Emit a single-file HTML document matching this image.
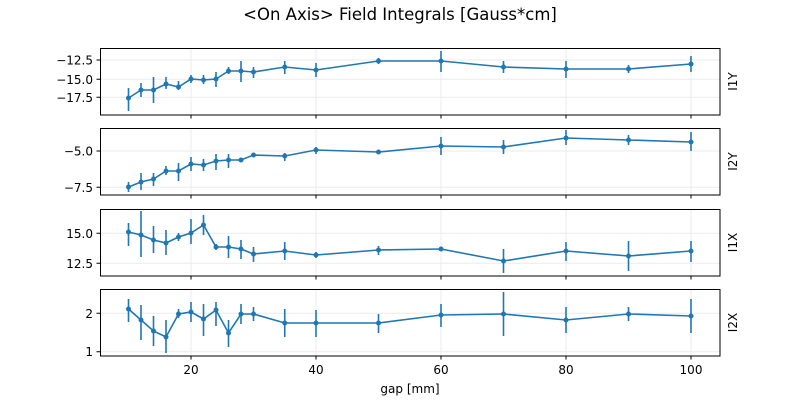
<!DOCTYPE html>
<html><head><meta charset="utf-8"><style>
html,body{margin:0;padding:0;background:#fff;}
svg{display:block;font-family:"DejaVu Sans","Liberation Sans",sans-serif;}
</style></head><body>
<svg width="800" height="400" viewBox="0 0 800 400" xmlns="http://www.w3.org/2000/svg">
<rect width="800" height="400" fill="#fff"/>
<text x="400" y="20" font-size="16.5" text-anchor="middle">&lt;On Axis&gt; Field Integrals [Gauss*cm]</text>

<g stroke="#ebebeb" stroke-width="1">
<path d="M191 48V115M316 48V115M441 48V115M566 48V115M691 48V115"/>
<path d="M100 60H720M100 79.3H720M100 97.3H720"/>
<path d="M191 128V195M316 128V195M441 128V195M566 128V195M691 128V195"/>
<path d="M100 151H720M100 187.3H720"/>
<path d="M191 209V276M316 209V276M441 209V276M566 209V276M691 209V276"/>
<path d="M100 233.3H720M100 263.3H720"/>
<path d="M191 289V356M316 289V356M441 289V356M566 289V356M691 289V356"/>
<path d="M100 313.3H720M100 351.7H720"/>
</g>

<g fill="none" stroke="#1f77b4" stroke-width="1.6">
<polyline points="128.5,98 141,90 153.5,90 166,84 178.5,87 191,79 203.5,80 216,79 228.5,71 241,71 253.5,72 284.75,67 316,70 378.5,61 441,61 503.5,67 566,69 628.5,69 691,64"/>
<path d="M128.5 88V111M141 83V97M153.5 77V103M166 77V89M178.5 81V90M191 75V83M203.5 75V84M216 72V87M228.5 67V74M241 61V82M253.5 67V78M284.75 61V74M316 63V77M378.5 58V64M441 51V72M503.5 61V73M566 61V78M628.5 65V73M691 56V72"/>
<polyline points="128.5,187 141,182 153.5,179 166,171 178.5,171 191,164 203.5,165 216,161 228.5,160 241,160 253.5,155 284.75,156 316,150 378.5,152 441,146 503.5,147 566,138 628.5,140 691,142"/>
<path d="M128.5 182V192M141 173V190M153.5 173V186M166 166V175M178.5 163V181M191 157V171M203.5 159V171M216 154V170M228.5 154V168M241 159V162M253.5 154V156M284.75 153V161M316 147V154M378.5 150V154M441 137V155M503.5 140V154M566 130V145M628.5 135V145M691 132V151"/>
<polyline points="128.5,232 141,235 153.5,240 166,243 178.5,237 191,233 203.5,225 216,247 228.5,247 241,249 253.5,254 284.75,251 316,255 378.5,250 441,249 503.5,261 566,251 628.5,256 691,251"/>
<path d="M128.5 223V246M141 211V257M153.5 226V253M166 230V255M178.5 233V241M191 219V244M203.5 215V235M216 244V250M228.5 236V258M241 240V259M253.5 247V262M284.75 242V260M316 252V258M378.5 246V255M441 247V251M503.5 249V273M566 242V261M628.5 241V271M691 241V262"/>
<polyline points="128.5,309 141,320 153.5,331 166,337 178.5,314 191,312 203.5,319 216,310 228.5,333 241,314 253.5,314 284.75,323 316,323 378.5,323 441,315 503.5,314 566,320 628.5,314 691,316"/>
<path d="M128.5 299V322M141 305V340M153.5 316V346M166 320V353M178.5 309V318M191 302V322M203.5 304V336M216 302V326M228.5 320V347M241 304V324M253.5 307V321M284.75 309V337M316 310V337M378.5 314V333M441 304V327M503.5 292V336M566 307V333M628.5 307V321M691 299V333"/>
</g>
<g fill="#1f77b4">
<circle cx="128.5" cy="98" r="2.5"/><circle cx="141" cy="90" r="2.5"/><circle cx="153.5" cy="90" r="2.5"/><circle cx="166" cy="84" r="2.5"/><circle cx="178.5" cy="87" r="2.5"/><circle cx="191" cy="79" r="2.5"/><circle cx="203.5" cy="80" r="2.5"/><circle cx="216" cy="79" r="2.5"/><circle cx="228.5" cy="71" r="2.5"/><circle cx="241" cy="71" r="2.5"/><circle cx="253.5" cy="72" r="2.5"/><circle cx="284.75" cy="67" r="2.5"/><circle cx="316" cy="70" r="2.5"/><circle cx="378.5" cy="61" r="2.5"/><circle cx="441" cy="61" r="2.5"/><circle cx="503.5" cy="67" r="2.5"/><circle cx="566" cy="69" r="2.5"/><circle cx="628.5" cy="69" r="2.5"/><circle cx="691" cy="64" r="2.5"/>
<circle cx="128.5" cy="187" r="2.5"/><circle cx="141" cy="182" r="2.5"/><circle cx="153.5" cy="179" r="2.5"/><circle cx="166" cy="171" r="2.5"/><circle cx="178.5" cy="171" r="2.5"/><circle cx="191" cy="164" r="2.5"/><circle cx="203.5" cy="165" r="2.5"/><circle cx="216" cy="161" r="2.5"/><circle cx="228.5" cy="160" r="2.5"/><circle cx="241" cy="160" r="2.5"/><circle cx="253.5" cy="155" r="2.5"/><circle cx="284.75" cy="156" r="2.5"/><circle cx="316" cy="150" r="2.5"/><circle cx="378.5" cy="152" r="2.5"/><circle cx="441" cy="146" r="2.5"/><circle cx="503.5" cy="147" r="2.5"/><circle cx="566" cy="138" r="2.5"/><circle cx="628.5" cy="140" r="2.5"/><circle cx="691" cy="142" r="2.5"/>
<circle cx="128.5" cy="232" r="2.5"/><circle cx="141" cy="235" r="2.5"/><circle cx="153.5" cy="240" r="2.5"/><circle cx="166" cy="243" r="2.5"/><circle cx="178.5" cy="237" r="2.5"/><circle cx="191" cy="233" r="2.5"/><circle cx="203.5" cy="225" r="2.5"/><circle cx="216" cy="247" r="2.5"/><circle cx="228.5" cy="247" r="2.5"/><circle cx="241" cy="249" r="2.5"/><circle cx="253.5" cy="254" r="2.5"/><circle cx="284.75" cy="251" r="2.5"/><circle cx="316" cy="255" r="2.5"/><circle cx="378.5" cy="250" r="2.5"/><circle cx="441" cy="249" r="2.5"/><circle cx="503.5" cy="261" r="2.5"/><circle cx="566" cy="251" r="2.5"/><circle cx="628.5" cy="256" r="2.5"/><circle cx="691" cy="251" r="2.5"/>
<circle cx="128.5" cy="309" r="2.5"/><circle cx="141" cy="320" r="2.5"/><circle cx="153.5" cy="331" r="2.5"/><circle cx="166" cy="337" r="2.5"/><circle cx="178.5" cy="314" r="2.5"/><circle cx="191" cy="312" r="2.5"/><circle cx="203.5" cy="319" r="2.5"/><circle cx="216" cy="310" r="2.5"/><circle cx="228.5" cy="333" r="2.5"/><circle cx="241" cy="314" r="2.5"/><circle cx="253.5" cy="314" r="2.5"/><circle cx="284.75" cy="323" r="2.5"/><circle cx="316" cy="323" r="2.5"/><circle cx="378.5" cy="323" r="2.5"/><circle cx="441" cy="315" r="2.5"/><circle cx="503.5" cy="314" r="2.5"/><circle cx="566" cy="320" r="2.5"/><circle cx="628.5" cy="314" r="2.5"/><circle cx="691" cy="316" r="2.5"/>
</g>

<g fill="none" stroke="#000" stroke-width="1">
<rect x="100.5" y="48.5" width="619.5" height="66.5"/>
<rect x="100.5" y="128.5" width="619.5" height="66.5"/>
<rect x="100.5" y="209.5" width="619.5" height="66.5"/>
<rect x="100.5" y="289.5" width="619.5" height="66.5"/>
<path d="M191 115v3.5M316 115v3.5M441 115v3.5M566 115v3.5M691 115v3.5"/>
<path d="M191 195v3.5M316 195v3.5M441 195v3.5M566 195v3.5M691 195v3.5"/>
<path d="M191 276v3.5M316 276v3.5M441 276v3.5M566 276v3.5M691 276v3.5"/>
<path d="M191 356v3.5M316 356v3.5M441 356v3.5M566 356v3.5M691 356v3.5"/>
<path d="M100 60h-3.5M100 79.3h-3.5M100 97.3h-3.5M100 151h-3.5M100 187.3h-3.5M100 233.3h-3.5M100 263.3h-3.5M100 313.3h-3.5M100 351.7h-3.5"/>
</g>

<g font-size="12" text-anchor="end">
<text x="93" y="64.5">−12.5</text>
<text x="93" y="83.8">−15.0</text>
<text x="93" y="101.8">−17.5</text>
<text x="93" y="155.5">−5.0</text>
<text x="93" y="191.8">−7.5</text>
<text x="93" y="237.8">15.0</text>
<text x="93" y="267.8">12.5</text>
<text x="93" y="317.8">2</text>
<text x="93" y="356.2">1</text>
</g>
<g font-size="12" text-anchor="middle">
<text x="191" y="374">20</text>
<text x="316" y="374">40</text>
<text x="441" y="374">60</text>
<text x="566" y="374">80</text>
<text x="691" y="374">100</text>
<text x="410" y="393">gap [mm]</text>
<text transform="translate(737,81.5) rotate(-90)">I1Y</text>
<text transform="translate(737,161.5) rotate(-90)">I2Y</text>
<text transform="translate(737,242.5) rotate(-90)">I1X</text>
<text transform="translate(737,322.5) rotate(-90)">I2X</text>
</g>
</svg>
</body></html>
